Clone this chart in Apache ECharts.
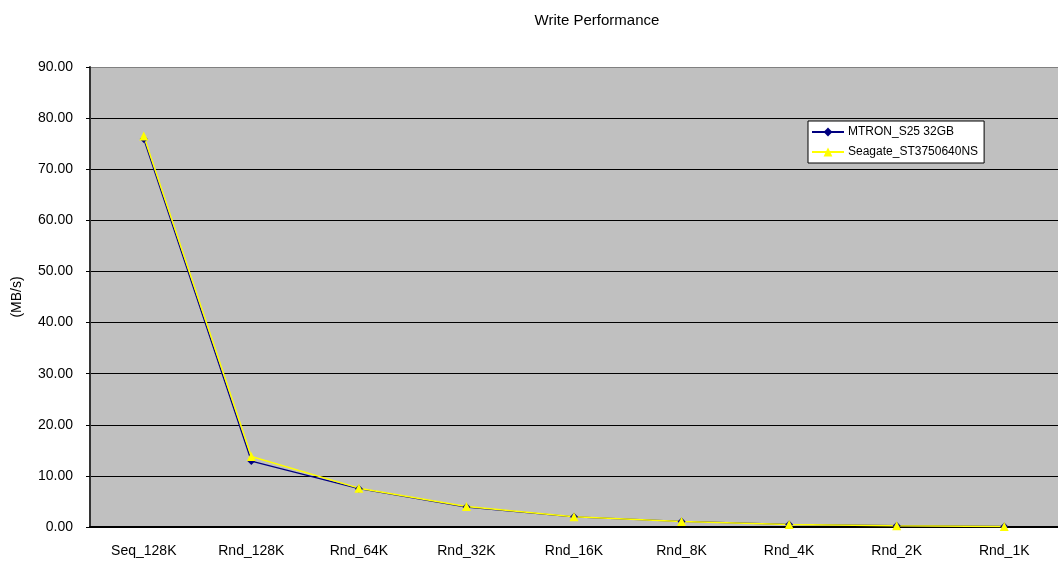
<!DOCTYPE html>
<html><head><meta charset="utf-8">
<script src="https://cdn.jsdelivr.net/npm/echarts@6/dist/echarts.min.js"></script>
<style>html,body{margin:0;padding:0;background:#fff}#c{width:1058px;height:563px}</style>
</head><body><div id="c"></div>
<script>
const categories = ['Seq_128K','Rnd_128K','Rnd_64K','Rnd_32K','Rnd_16K','Rnd_8K','Rnd_4K','Rnd_2K','Rnd_1K'];
const mtron = [75.9, 12.9, 7.5, 3.9, 2.0, 1.1, 0.5, 0.25, 0.12];
const seagate = [76.5, 13.8, 7.6, 4.0, 2.0, 1.1, 0.5, 0.25, 0.12];
const yTicks = [0, 10, 20, 30, 40, 50, 60, 70, 80, 90];
const F = 'Liberation Sans, Arial, sans-serif';
const chart = echarts.init(document.getElementById('c'));
chart.setOption({
  animation: false,
  title: { text: 'Write Performance', left: 592, textAlign: 'center', top: 8,
    textStyle: { fontFamily: F, fontSize: 15, fontWeight: 'normal', color: '#000' } },
  legend: {
    orient: 'vertical', left: 808, top: 121,
    backgroundColor: '#fff', borderColor: '#000', borderWidth: 1,
    padding: [5, 6, 5, 3], itemGap: 8, itemWidth: 32, itemHeight: 11,
    textStyle: { fontFamily: F, fontSize: 12, color: '#000', padding: [0, 0, 0, -1] },
    data: ['MTRON_S25 32GB', 'Seagate_ST3750640NS']
  },
  grid: { left: 90, right: 0, top: 67, bottom: 36, backgroundColor: '#C0C0C0', show: true, borderWidth: 0 },
  xAxis: {
    type: 'category', data: categories, boundaryGap: true,
    axisLine: { lineStyle: { color: '#000', width: 2 } },
    axisTick: { inside: true, length: 5, lineStyle: { color: '#000' } },
    axisLabel: { fontFamily: F, fontSize: 14, color: '#000', margin: 17 }
  },
  yAxis: {
    type: 'value', min: 0, max: 90, interval: 10,
    name: '(MB/s)', nameLocation: 'middle', nameGap: 66, nameRotate: 90,
    nameTextStyle: { fontFamily: F, fontSize: 14, color: '#000' },
    axisLine: { show: true, lineStyle: { color: '#333', width: 2 } },
    axisTick: { show: true, length: 4, lineStyle: { color: '#000' } },
    axisLabel: { fontFamily: F, fontSize: 14, color: '#000', margin: 17,
      formatter: v => yTicks.includes(v) ? v.toFixed(2) : '' },
    splitLine: { lineStyle: { color: ['#000','#000','#000','#000','#000','#000','#000','#000','#000','#808080'], width: 1 } }
  },
  series: [
    { name: 'MTRON_S25 32GB', type: 'line', data: mtron, symbol: 'diamond', symbolSize: 8,
      lineStyle: { color: '#000080', width: 1.3 }, itemStyle: { color: '#000080' } },
    { name: 'Seagate_ST3750640NS', type: 'line', data: seagate, symbol: 'triangle', symbolSize: 9,
      lineStyle: { color: '#FFFF00', width: 1.5 }, itemStyle: { color: '#FFFF00' } }
  ]
});
</script></body></html>
